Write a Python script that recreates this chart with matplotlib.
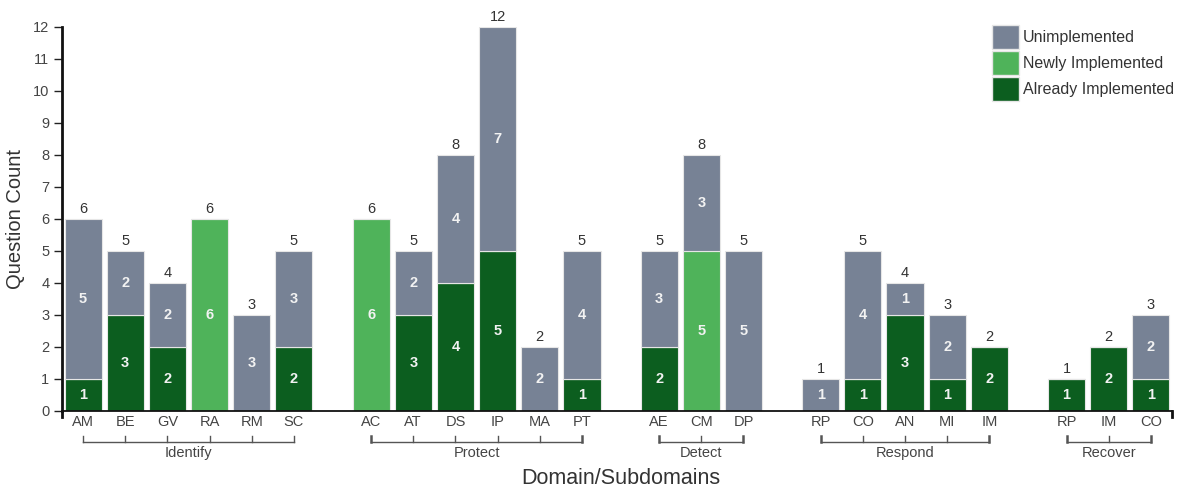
import numpy as np
import matplotlib.pyplot as plt
from matplotlib.patches import Patch

plt.rcParams['font.family'] = ['Liberation Sans', 'DejaVu Sans']

# Domains and their subdomains, in drawing order
domains = ['Identify', 'Protect', 'Detect', 'Respond', 'Recover']
subdomains = [
    ['AM', 'BE', 'GV', 'RA', 'RM', 'SC'],
    ['AC', 'AT', 'DS', 'IP', 'MA', 'PT'],
    ['AE', 'CM', 'DP'],
    ['RP', 'CO', 'AN', 'MI', 'IM'],
    ['RP', 'IM', 'CO'],
]

# Question counts per subdomain, stacked bottom to top
already = [1, 3, 2, 0, 0, 2,
           0, 3, 4, 5, 0, 1,
           2, 0, 0,
           0, 1, 3, 1, 2,
           1, 2, 1]
newly = [0, 0, 0, 6, 0, 0,
         6, 0, 0, 0, 0, 0,
         0, 5, 0,
         0, 0, 0, 0, 0,
         0, 0, 0]
unimpl = [5, 2, 2, 0, 3, 3,
          0, 2, 4, 7, 2, 4,
          3, 3, 5,
          1, 4, 1, 2, 0,
          0, 0, 2]

c_unimpl = '#778295'
c_newly = '#4fb35a'
c_already = '#0c5e1f'
txt = '#444444'

# x positions: one slot per bar, extra space between domains
gap = 0.83
xs = []
group_x = []
pos = 0.0
for subs in subdomains:
    gx = []
    for _ in subs:
        gx.append(pos)
        pos += 1
    pos += gap
    xs += gx
    group_x.append(gx)
xs = np.array(xs)
labels = [s for subs in subdomains for s in subs]

already = np.array(already)
newly = np.array(newly)
unimpl = np.array(unimpl)
totals = already + newly + unimpl

fig = plt.figure(figsize=(11.85, 4.88), dpi=100)
ax = fig.add_axes([0.0523, 0.158, 0.9367, 0.787])

w = 0.88
kw = dict(width=w, edgecolor='#e6e6e6', linewidth=0.8)
ax.bar(xs, already, color=c_already, **kw)
ax.bar(xs, newly, bottom=already, color=c_newly, **kw)
ax.bar(xs, unimpl, bottom=already + newly, color=c_unimpl, **kw)

# segment values inside the bars
for x, a, n, u in zip(xs, already, newly, unimpl):
    base = 0
    for v in (a, n, u):
        if v > 0:
            ax.text(x, base + v / 2, str(v), ha='center', va='center',
                    color='#f2f2f2', fontsize=10.5, fontweight='bold')
        base += v

# totals on top
for x, t in zip(xs, totals):
    ax.text(x, t + 0.08, str(t), ha='center', va='bottom', color='#333333',
            fontsize=10.5)

ax.set_xlim(xs[0] - 0.5, xs[-1] + 0.5)
ax.set_ylim(0, 12)
ax.set_yticks(range(13))
ax.set_xticks(xs)
ax.set_xticklabels(labels)
ax.tick_params(axis='x', length=0, pad=3, labelsize=10.5, labelcolor=txt)
ax.tick_params(axis='y', length=6, width=1, pad=3, labelsize=10.5,
               labelcolor=txt, color='#222222')
for s in ['top', 'right']:
    ax.spines[s].set_visible(False)
ax.spines['left'].set_linewidth(2)
ax.spines['bottom'].set_linewidth(1.3)
ax.spines['left'].set_color('#111111')
ax.spines['bottom'].set_color('#111111')

# outer ticks at both ends of the x axis
for xe in (xs[0] - 0.5, xs[-1] + 0.5):
    ax.plot([xe, xe], [0, -0.2], color='#111111', lw=2, clip_on=False)

# domain brackets under the subdomain labels
yb = -0.97
for name, gx in zip(domains, group_x):
    ax.plot([gx[0], gx[-1]], [yb, yb], color='#555555', lw=1, clip_on=False)
    for i, x in enumerate(gx):
        lw = 1.8 if i in (0, len(gx) - 1) and name != 'Identify' else 1
        ax.plot([x, x], [yb, yb + 0.2], color='#555555', lw=lw,
                clip_on=False)
    ax.text(np.mean(gx), -1.31, name, ha='center', va='center',
            fontsize=10.5, color=txt)

ax.text((xs[0] + xs[-1]) / 2 + 0.1, -2.1, 'Domain/Subdomains', ha='center',
        va='center', fontsize=15.5, color='#333333')
ax.set_ylabel('Question Count', fontsize=14.5, color='#333333', labelpad=6)

handles = [Patch(facecolor=c_unimpl, edgecolor='#e6e6e6'),
           Patch(facecolor=c_newly, edgecolor='#e6e6e6'),
           Patch(facecolor=c_already, edgecolor='#e6e6e6')]
leg = fig.legend(handles, ['Unimplemented', 'Newly Implemented',
                           'Already Implemented'],
                 loc='upper left', bbox_to_anchor=(992 / 1185, 1 - 25 / 488),
                 frameon=False, fontsize=11.5, handlelength=1.7,
                 handleheight=1.93, labelspacing=0.12, handletextpad=0.25,
                 borderpad=0, borderaxespad=0)
for t in leg.get_texts():
    t.set_color('#333333')

fig.savefig('out.png', dpi=100)
